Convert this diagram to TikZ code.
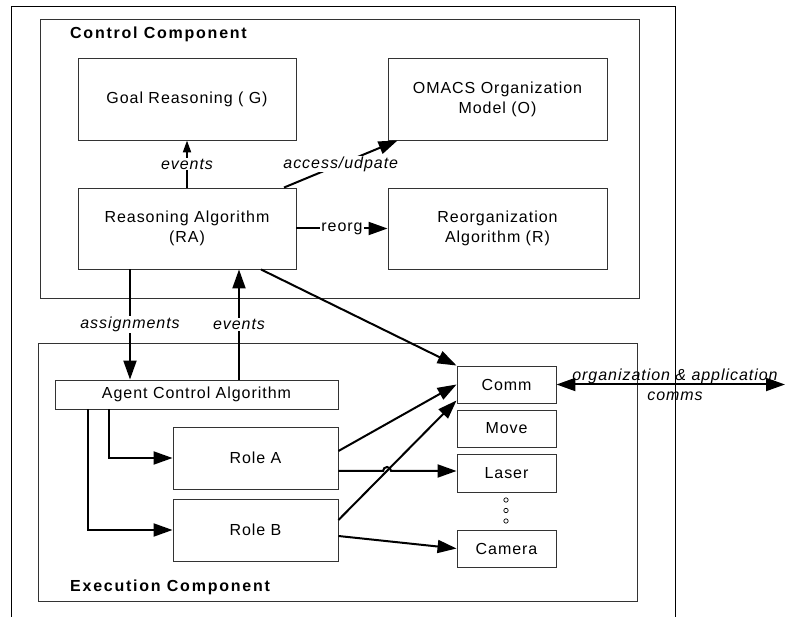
\documentclass[tikz,border=0pt]{standalone}
\usepackage{fontspec}
\setmainfont{Liberation Sans}[LetterSpace=6]
\usetikzlibrary{arrows.meta}
\begin{document}
\begin{tikzpicture}[x=1pt,y=-1pt,
  every node/.style={font=\fontsize{16}{20}\selectfont},
  box/.style={draw=black!80,line width=0.9pt,inner sep=0pt,align=center},
  frame/.style={draw=black!80,line width=0.9pt},
  arr/.style={line width=2pt,-{Triangle[length=19pt,width=13pt]}},
  sarr/.style={line width=2pt,-{Triangle[length=12pt,width=8pt]}},
  lbl/.style={fill=white,inner sep=1pt,font=\fontsize{16}{20}\selectfont\itshape},
  title/.style={anchor=west,inner sep=0pt,font=\fontsize{16}{20}\selectfont\bfseries\addfontfeatures{LetterSpace=11}}]
\useasboundingbox (0,0) rectangle (785,617);
% outer frame (open at bottom)
\draw[frame,draw=black] (11,617) -- (11,6) -- (675,6) -- (675,617);
% containers
\node[box,minimum width=599pt,minimum height=279pt] (ctrl) at (339.5,158.5) {};
\node[box,minimum width=599pt,minimum height=258pt] (exec) at (337.5,472) {};
\node[title] (ctrlT) at (70,34) {Control Component};
\node[title] (execT) at (70,587) {Execution Component};
% control boxes
\node[box,minimum width=218pt,minimum height=82pt] (G) at (187,99) {Goal Reasoning ( G)};
\node[box,minimum width=219pt,minimum height=82pt] (O) at (497.5,99) {OMACS Organization\\Model (O)};
\node[box,minimum width=218pt,minimum height=81pt] (RA) at (187,228.5) {Reasoning Algorithm\\(RA)};
\node[box,minimum width=219pt,minimum height=81pt] (R) at (497.5,228.5) {Reorganization\\Algorithm (R)};
% execution boxes
\node[box,minimum width=283pt,minimum height=29pt] (ACA) at (196.5,394.5) {Agent Control Algorithm};
\node[box,minimum width=165pt,minimum height=62pt] (RoleA) at (255.5,458) {Role A};
\node[box,minimum width=165pt,minimum height=62pt] (RoleB) at (255.5,530) {Role B};
\node[box,minimum width=99pt,minimum height=37pt] (Comm) at (506.5,384.5) {Comm};
\node[box,minimum width=99pt,minimum height=37pt] (Move) at (506.5,428.5) {Move};
\node[box,minimum width=99pt,minimum height=38pt] (Laser) at (506.5,473) {Laser};
\node[box,minimum width=99pt,minimum height=37pt] (Camera) at (506.5,548.5) {Camera};
% dots
\foreach \yy in {500,510.5,521} \draw[line width=0.7pt] (506,\yy) circle (2.2);
% control connectors
\draw[sarr] (RA.north) -- node[lbl] {events} (G.south);
\draw[arr] ([xshift=97pt]RA.north) -- node[lbl] {access/udpate} ([xshift=10pt]O.south west);
\draw[arr] (RA.east) -- node[fill=white,inner sep=1pt] {reorg} (R.west);
% between components
\coordinate (asg) at ([xshift=-57pt]RA.south);
\draw[arr] (asg) -- node[lbl] {assignments} (asg |- ACA.north);
\coordinate (evt) at ([xshift=52pt]RA.south);
\draw[arr] (evt |- ACA.north) -- node[lbl] {events} (evt);
\draw[arr] ([xshift=74pt]RA.south) -- (Comm.north west);
% ACA to roles
\draw[arr] ([xshift=-87.5pt]ACA.south) |- (RoleA.west);
\draw[arr] ([xshift=-108.5pt]ACA.south) |- (RoleB.west);
% roles to resources
\draw[arr] ([yshift=7pt]RoleA.east) -- (Comm.west);
\coordinate (ra1) at ([yshift=-13pt]RoleA.east);
\draw[arr] (ra1) -- ++(44.6,0) arc[start angle=180,end angle=360,radius=4] -- (ra1 -| Laser.west);
\draw[arr] ([yshift=10pt]RoleB.east) -- ([yshift=3pt]Comm.south west);
\draw[arr] ([yshift=-6pt]RoleB.east) -- (Camera.west);
% external comms
\coordinate (ext) at (785,384.5);
\draw[line width=2pt,{Triangle[length=19pt,width=13pt]}-{Triangle[length=19pt,width=13pt]}] (Comm.east) -- (ext);
\node[align=center,inner sep=0pt,font=\fontsize{16}{20}\selectfont\itshape] (extL) at (675,385) {organization \& application\\comms};
\end{tikzpicture}
\end{document}
